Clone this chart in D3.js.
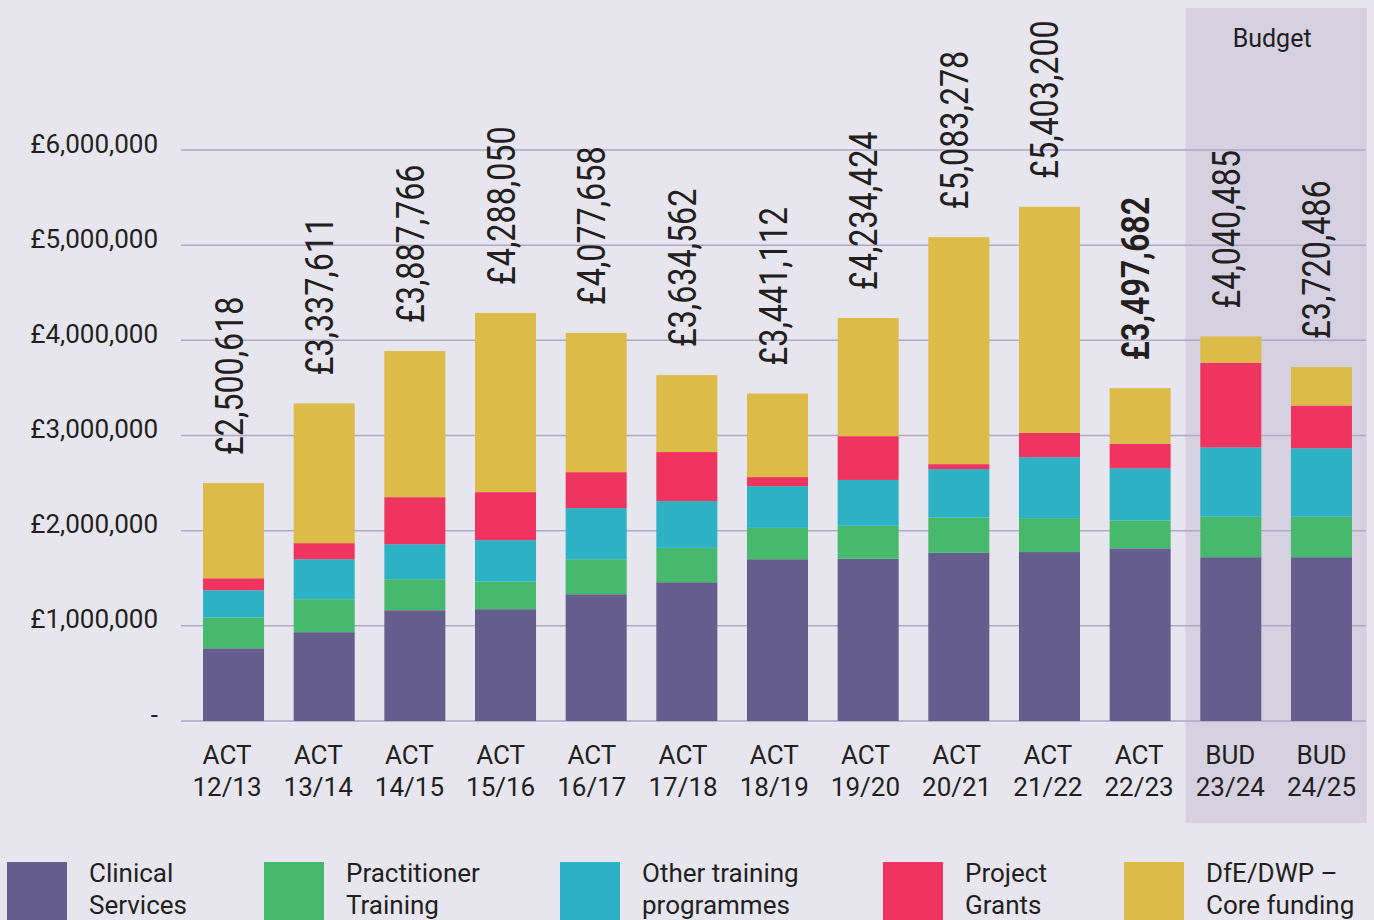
<!DOCTYPE html>
<html><head><meta charset="utf-8">
<script src="https://cdn.jsdelivr.net/npm/d3@7"></script>
<style>
html,body{margin:0;padding:0;background:#e7e6ee;}
svg{display:block;font-family:Roboto,"Noto Sans",sans-serif;}
</style></head>
<body>
<svg id="chart" width="1374" height="920"></svg>
<script>
const categories = [["ACT","12/13"],["ACT","13/14"],["ACT","14/15"],["ACT","15/16"],["ACT","16/17"],["ACT","17/18"],["ACT","18/19"],["ACT","19/20"],["ACT","20/21"],["ACT","21/22"],["ACT","22/23"],["BUD","23/24"],["BUD","24/25"]];
const seriesNames = [["Clinical","Services"],["Practitioner","Training"],["Other training","programmes"],["Project","Grants"],["DfE/DWP –","Core funding"]];
const clinical     = [764000, 933000, 1164000, 1175000, 1332000, 1458000, 1700000, 1705000, 1767000, 1775000, 1814000, 1721000, 1721000];
const practitioner = [323000, 347000, 326000, 291000, 368000, 361000, 329000, 346000, 372000, 357000, 294000, 426000, 426000];
const otherTraining= [287000, 420000, 368000, 434000, 537000, 492000, 439000, 482000, 508000, 640000, 547000, 728000, 719000];
const projectGrants= [126000, 169000, 494000, 505000, 378000, 515000, 95000, 460000, 52000, 255000, 259000, 890000, 449000];
const coreFunding  = [1000618, 1468611, 1535766, 1883050, 1462658, 808562, 878112, 1241424, 2384278, 2376200, 583682, 275485, 405486];
const totals       = [2500618, 3337611, 3887766, 4288050, 4077658, 3634562, 3441112, 4234424, 5083278, 5403200, 3497682, 4040485, 3720486];
const yTicks = [0, 1000000, 2000000, 3000000, 4000000, 5000000, 6000000];
const budgetLabel = "Budget";
const budgetCategories = ["BUD 23/24","BUD 24/25"];
const boldLabelIndex = 10;

const colors = ["#655d8c","#47b96c","#2db1c5","#ef355f","#dcbb48"];
const textColor = "#231f20";

const svg = d3.select("#chart");
const keys = categories.map(c => c.join(" "));
const seriesArr = [clinical, practitioner, otherTraining, projectGrants, coreFunding];

const rows = keys.map((k,i) => {
  const r = {key:k};
  seriesArr.forEach((s,j) => r["s"+j] = s[i]);
  return r;
});
const stack = d3.stack().keys(seriesArr.map((_,j)=>"s"+j))(rows);

const pi = 0.327;
const x = d3.scaleBand().domain(keys).range([188.2, 1366.8]).paddingInner(pi).paddingOuter(pi/2);
const xLabel = d3.scalePoint().domain(keys).range([227, 1321.5]);
const y = d3.scaleLinear().domain([0, 6000000]).range([721, 150]);

// budget shade
const bx0 = x(budgetCategories[0]) - x.step()*pi/2;
const bx1 = x(budgetCategories[1]) + x.bandwidth() + x.step()*pi/2;
svg.append("rect").attr("x", bx0).attr("y", 8).attr("width", bx1-bx0).attr("height", 815).attr("fill","#d5d1e0");
svg.append("text").attr("x",(bx0+bx1)/2 - 4).attr("y",47).attr("text-anchor","middle")
  .attr("font-size",25).attr("fill",textColor).text(budgetLabel);

// grid
svg.append("g").selectAll("line").data(yTicks).join("line")
  .attr("x1",181).attr("x2",1366).attr("y1",d=>y(d)).attr("y2",d=>y(d))
  .attr("stroke","#aea7c6").attr("stroke-width",1.5);

// y labels
const yAxis = d3.axisLeft(y).tickValues(yTicks).tickSize(0).tickPadding(0)
  .tickFormat(d => d===0 ? "-" : "£"+d3.format(",")(d));
const ya = svg.append("g").attr("transform","translate(158,0)").call(yAxis);
ya.select(".domain").remove();
ya.selectAll("text").attr("font-size",26).attr("fill",textColor).attr("font-family","Roboto").attr("dy","0.08em");

// bars
svg.append("g").selectAll("g").data(stack).join("g").attr("fill",(d,i)=>colors[i])
  .selectAll("rect").data(d=>d).join("rect")
  .attr("x",d=>x(d.data.key)).attr("width",x.bandwidth())
  .attr("y",d=>y(d[1])).attr("height",d=>y(d[0])-y(d[1]));

// total labels
svg.append("g").selectAll("text").data(totals).join("text")
  .attr("transform",(d,i)=>`translate(${x(keys[i])+x.bandwidth()/2+9},${y(d)-28}) rotate(-90) scale(0.85,1)`)
  .attr("font-size",38).attr("fill",textColor)
  .attr("font-weight",(d,i)=> i===boldLabelIndex ? 600 : 400)
  .text(d=>"£"+d3.format(",")(d));

// x labels
const xa = svg.append("g").selectAll("g").data(categories).join("g")
  .attr("transform",(d,i)=>`translate(${xLabel(keys[i])},0)`);
xa.append("text").attr("y",764).attr("text-anchor","middle").attr("font-size",26).attr("fill",textColor).text(d=>d[0]);
xa.append("text").attr("y",796).attr("text-anchor","middle").attr("font-size",26).attr("fill",textColor).text(d=>d[1]);

// legend
const legendX = [7, 264, 560, 883, 1124];
const lg = svg.append("g").selectAll("g").data(seriesNames).join("g")
  .attr("transform",(d,i)=>`translate(${legendX[i]},862)`);
lg.append("rect").attr("width",60).attr("height",70).attr("fill",(d,i)=>colors[i]);
lg.append("text").attr("x",82).attr("y",20).attr("font-size",26).attr("fill",textColor).text(d=>d[0]);
lg.append("text").attr("x",82).attr("y",52).attr("font-size",26).attr("fill",textColor).text(d=>d[1]);
</script>
</body></html>
